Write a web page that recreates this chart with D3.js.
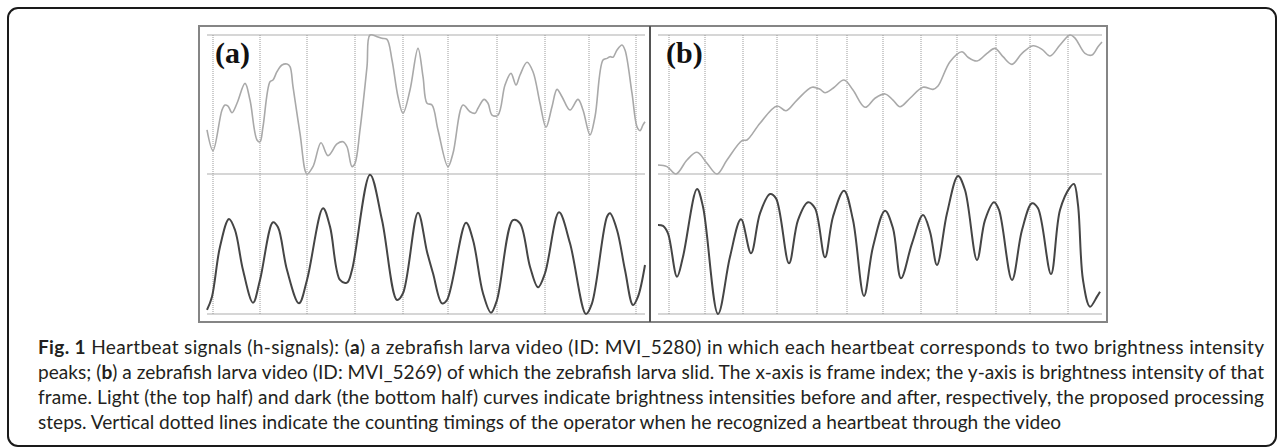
<!DOCTYPE html>
<html>
<head>
<meta charset="utf-8">
<script src="https://cdn.jsdelivr.net/npm/d3@7"></script>
<style>
  body { margin: 0; background: #fff; }
  svg { display: block; }
</style>
</head>
<body>
<div id="chart"></div>
<script>
// (a) MVI_5280 -- light curve = before processing, dark = after
var lightFramesA = [0,6,15,18,21,25,30,38,43,50,53,56,63,66,70,75,80,83,86,93,100,106,114,121,130,136,140,145,148,153,160,163,170,175,180,185,191,196,203,211,216,220,225,231,241,246,256,263,268,271,277,281,285,291,298,304,309,313,320,326,333,339,345,350,355,363,371,376,383,388,396,400,403,406,410,415,418,425,430,433,436,438];
var lightA = [31.7,16.8,46.0,49.6,48.9,44.1,50.9,65.2,53.2,24.5,23.2,34.0,66.4,67.6,73.6,78.4,79.1,77.2,62.8,29.3,0,5.3,22.5,13.2,21.6,23.2,19.6,5.3,7.7,31.7,77.2,100,98.8,97.6,96.9,82.0,55.6,43.7,60.4,90.4,70.0,50.9,49.6,31.7,5.3,14.9,49.6,44.8,43.7,47.3,53.7,50.9,42.4,42.4,64.0,72.4,64.0,71.2,80.4,73.6,50.9,33.6,48.4,60.9,55.6,46.0,53.7,46.0,28.1,41.2,82.0,83.2,84.4,84.0,89.2,92.8,89.2,58.1,34.0,31.2,35.3,37.6];
var darkFramesA = [0,5,13,22,28,36,46,53,66,71,80,92,100,116,123,133,140,145,163,175,190,196,211,220,226,235,240,259,266,276,284,290,306,313,323,331,338,352,363,379,385,400,403,410,418,426,431,438];
var darkA = [2.9,12.4,48.1,67.9,60.0,31.4,8.1,24.3,65.5,61.9,31.4,7.6,24.3,75.5,62.4,24.3,22.4,31.4,99.5,67.1,10.0,14.8,72.4,44.5,29.1,7.6,10.0,65.2,52.9,14.8,0.9,10.0,67.1,64.8,33.8,19.1,29.1,72.6,50.5,0,7.6,69.5,71.9,60.0,31.4,6.4,12.4,35.0];
var beatsA = [6,53,100,148,196,241,290,338,382,429];

// (b) MVI_5269 -- larva slid
var lightFramesB = [0,9,18,29,39,49,59,69,84,89,102,119,128,139,154,162,167,175,186,195,207,217,227,235,242,252,265,275,280,292,304,310,319,329,337,345,354,364,375,384,392,402,412,417,427,434,440,444];
var lightB = [6.5,5.3,0,10.1,15.6,7.7,0,10.1,24.0,24.5,36.5,48.9,45.5,53.2,62.4,60.9,58.5,61.7,67.6,60.4,48.0,54.5,57.6,53.2,48.4,54.5,62.4,60.9,63.3,80.8,88.0,84.0,81.3,86.8,90.4,84.4,78.9,86.8,92.3,89.7,84.9,92.8,100,97.8,86.8,85.6,91.6,95.0];
var darkFramesB = [0,5,10,19,25,39,45,60,72,83,93,102,112,118,131,140,150,157,167,175,186,195,206,215,227,235,243,254,265,272,279,289,300,307,319,327,336,341,354,364,374,380,393,402,412,416,420,425,432,439,442];
var darkB = [63.6,62.9,57.6,26.6,40.9,89.3,76.6,0,40.9,67.6,43.4,71.9,85.7,82.6,36.2,67.1,79.8,75.5,40.5,69.5,88.1,67.1,12.9,48.1,73.8,61.2,25.5,50.5,70.7,58.8,35.0,71.9,98.6,88.6,38.6,67.1,79.8,74.3,24.3,60.0,79.1,75.5,28.6,74.3,90.5,92.9,77.9,24.3,5.2,12.4,15.9];
var beatsB = [11,47,85,119,159,189,225,263,299,338,372,410];

var panelLabels = ["(a)", "(b)"];
var captionLines = [
    [["Fig. 1", true], [" Heartbeat signals (h-signals): (", false], ["a", true], [") a zebrafish larva video (ID: MVI_5280) in which each heartbeat corresponds to two brightness intensity", false]],
    [["peaks; (", false], ["b", true], [") a zebrafish larva video (ID: MVI_5269) of which the zebrafish larva slid. The x-axis is frame index; the y-axis is brightness intensity of that", false]],
    [["frame. Light (the top half) and dark (the bottom half) curves indicate brightness intensities before and after, respectively, the proposed processing", false]],
    [["steps. Vertical dotted lines indicate the counting timings of the operator when he recognized a heartbeat through the video", false]]
];

var width = 1284, height = 448;

var svg = d3.select("#chart").append("svg")
    .attr("width", width)
    .attr("height", height);

// outer rounded box
svg.append("rect")
    .attr("x", 8).attr("y", 8)
    .attr("width", 1268).attr("height", 438)
    .attr("rx", 10)
    .attr("fill", "none")
    .attr("stroke", "#1a1a1a")
    .attr("stroke-width", 2);

// y scales shared by both panels: light on top half, dark on bottom half
var yTop = d3.scaleLinear().domain([0, 100]).range([174, 35]);
var yBot = d3.scaleLinear().domain([0, 100]).range([314, 174]);

var panels = [
    {label: panelLabels[0], xr: [207, 645], dom: [0, 438], lf: lightFramesA, lv: lightA, df: darkFramesA, dv: darkA, beats: beatsA},
    {label: panelLabels[1], xr: [658, 1102], dom: [0, 444], lf: lightFramesB, lv: lightB, df: darkFramesB, dv: darkB, beats: beatsB}
];

panels.forEach(function(p) {
    var x = d3.scaleLinear().domain(p.dom).range(p.xr);
    var g = svg.append("g");

    // horizontal guides
    g.selectAll("line.h")
        .data([yTop(100), yTop(0), yBot(0)])
        .enter().append("line")
        .attr("x1", x(p.dom[0])).attr("x2", x(p.dom[1]))
        .attr("y1", d => d).attr("y2", d => d)
        .attr("stroke", "#c8c8c8")
        .attr("stroke-width", 1.5);

    // operator counting timings
    g.selectAll("line.v")
        .data(p.beats)
        .enter().append("line")
        .attr("x1", d => x(d)).attr("x2", d => x(d))
        .attr("y1", yTop(100)).attr("y2", yBot(0))
        .attr("stroke", "#9a9a9a")
        .attr("stroke-width", 1)
        .attr("stroke-dasharray", "1,1");

    var lineTop = d3.line()
        .x(d => x(d[0]))
        .y(d => yTop(d[1]))
        .curve(d3.curveCatmullRom.alpha(0.5));
    var lineBot = d3.line()
        .x(d => x(d[0]))
        .y(d => yBot(d[1]))
        .curve(d3.curveCatmullRom.alpha(0.5));

    g.append("path")
        .datum(d3.zip(p.lf, p.lv))
        .attr("d", lineTop)
        .attr("fill", "none")
        .attr("stroke", "#a9a9a9")
        .attr("stroke-width", 1.6);

    g.append("path")
        .datum(d3.zip(p.df, p.dv))
        .attr("d", lineBot)
        .attr("fill", "none")
        .attr("stroke", "#454545")
        .attr("stroke-width", 2);

    g.append("text")
        .attr("x", x(p.dom[0]) + 8)
        .attr("y", 63)
        .attr("font-family", "'Liberation Serif', 'Times New Roman', serif")
        .attr("font-weight", "bold")
        .attr("font-size", 30)
        .attr("fill", "#111")
        .text(p.label);
});

// figure frame and divider
svg.append("rect")
    .attr("x", 199).attr("y", 26)
    .attr("width", 908).attr("height", 296)
    .attr("fill", "none")
    .attr("stroke", "#858585")
    .attr("stroke-width", 2);
svg.append("line")
    .attr("x1", 650).attr("x2", 650)
    .attr("y1", 26).attr("y2", 322)
    .attr("stroke", "#555")
    .attr("stroke-width", 2);

// caption, justified except the last line
var capX = 38, capRight = 1264;
var capY = [354, 379, 404, 429];
var capFont = "Lato, 'Open Sans', sans-serif";

var cap = svg.append("g")
    .attr("font-family", capFont)
    .attr("fill", "#231f20");

var texts = cap.selectAll("text")
    .data(captionLines)
    .enter().append("text")
    .attr("x", capX)
    .attr("y", (d, i) => capY[i])
    .attr("font-size", 100);

texts.selectAll("tspan")
    .data(d => d)
    .enter().append("tspan")
    .attr("font-weight", d => d[1] ? "bold" : "normal")
    .text(d => d[0]);

var w2 = texts.nodes()[1].getComputedTextLength();
var fs = 100 * (capRight - 4 - capX) / w2;
texts.attr("font-size", fs);
texts.filter((d, i) => i < 3)
    .attr("textLength", capRight - capX)
    .attr("lengthAdjust", "spacing");
</script>
</body>
</html>
